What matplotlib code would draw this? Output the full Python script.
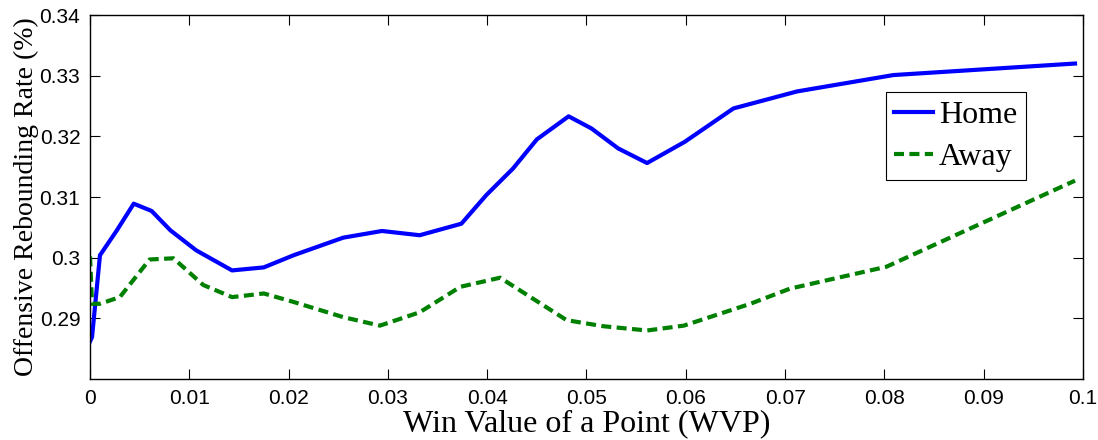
import matplotlib
matplotlib.use("Agg")
import matplotlib.pyplot as plt

home_x = [0.0, 0.0002, 0.001, 0.0027, 0.0044, 0.0062, 0.0081, 0.0107, 0.0143, 0.0175,
          0.0205, 0.0255, 0.0294, 0.0332, 0.0374, 0.0399, 0.0426, 0.0450, 0.0482,
          0.0505, 0.0532, 0.0561, 0.0599, 0.0648, 0.0712, 0.0809, 0.0992]
home_y = [0.2862, 0.2869, 0.3004, 0.3045, 0.3089, 0.3077, 0.3045, 0.3012, 0.2979, 0.2984,
          0.3004, 0.3033, 0.3044, 0.3037, 0.3056, 0.3103, 0.3147, 0.3195, 0.3233,
          0.3213, 0.3180, 0.3156, 0.3191, 0.3246, 0.3274, 0.3301, 0.3320]

away_x = [0.0, 0.0002, 0.001, 0.003, 0.006, 0.0084, 0.0114, 0.0143, 0.0175, 0.0205,
          0.0255, 0.0292, 0.0332, 0.0373, 0.0413, 0.0480, 0.0517, 0.0561, 0.0598,
          0.0665, 0.0705, 0.0802, 0.0992]
away_y = [0.3002, 0.2924, 0.2924, 0.2935, 0.2997, 0.2999, 0.2955, 0.2935, 0.2941, 0.2927,
          0.2902, 0.2888, 0.2910, 0.2952, 0.2967, 0.2897, 0.2887, 0.2880, 0.2888,
          0.2924, 0.2949, 0.2985, 0.3127]

x_ticks = [0, 0.01, 0.02, 0.03, 0.04, 0.05, 0.06, 0.07, 0.08, 0.09, 0.1]
x_tick_labels = ["0", "0.01", "0.02", "0.03", "0.04", "0.05", "0.06", "0.07", "0.08", "0.09", "0.1"]
y_ticks = [0.29, 0.30, 0.31, 0.32, 0.33, 0.34]
y_tick_labels = ["0.29", "0.3", "0.31", "0.32", "0.33", "0.34"]

fig = plt.figure(figsize=(10.98, 4.4), dpi=100)
ax = fig.add_axes([0.082, 0.1386, 0.9043, 0.8273])

ax.plot(home_x, home_y, color=(0, 0, 1), lw=3.0, label="Home", solid_joinstyle="round")
ax.plot(away_x, away_y, color=(0, 0.5, 0), lw=3.0, linestyle=(0, (2.4, 1.3)), label="Away")

ax.set_xlim(0, 0.1)
ax.set_ylim(0.28, 0.34)
ax.set_xticks(x_ticks)
ax.set_xticklabels(x_tick_labels)
ax.set_yticks(y_ticks)
ax.set_yticklabels(y_tick_labels)
ax.tick_params(direction="in", length=7, width=0.8, top=True, right=True,
               labelsize=15, pad=7)
for lab in ax.get_xticklabels() + ax.get_yticklabels():
    lab.set_family("Liberation Sans")
for sp in ax.spines.values():
    sp.set_linewidth(1.0)

ax.set_xlabel("Win Value of a Point (WVP)", fontsize=23, family="Liberation Serif", labelpad=1)
ax.set_ylabel("Offensive Rebounding Rate (%)", fontsize=20, family="Liberation Serif", labelpad=0.5)

leg = ax.legend(loc="upper left", bbox_to_anchor=(0.8016, 0.788), borderaxespad=0,
                prop={"family": "Liberation Serif", "size": 23}, fancybox=False,
                edgecolor="black", framealpha=1, handlelength=1.2, handletextpad=0.2,
                borderpad=0.26, labelspacing=0.4)
leg.get_frame().set_linewidth(0.8)

fig.savefig("out.png", dpi=100)
